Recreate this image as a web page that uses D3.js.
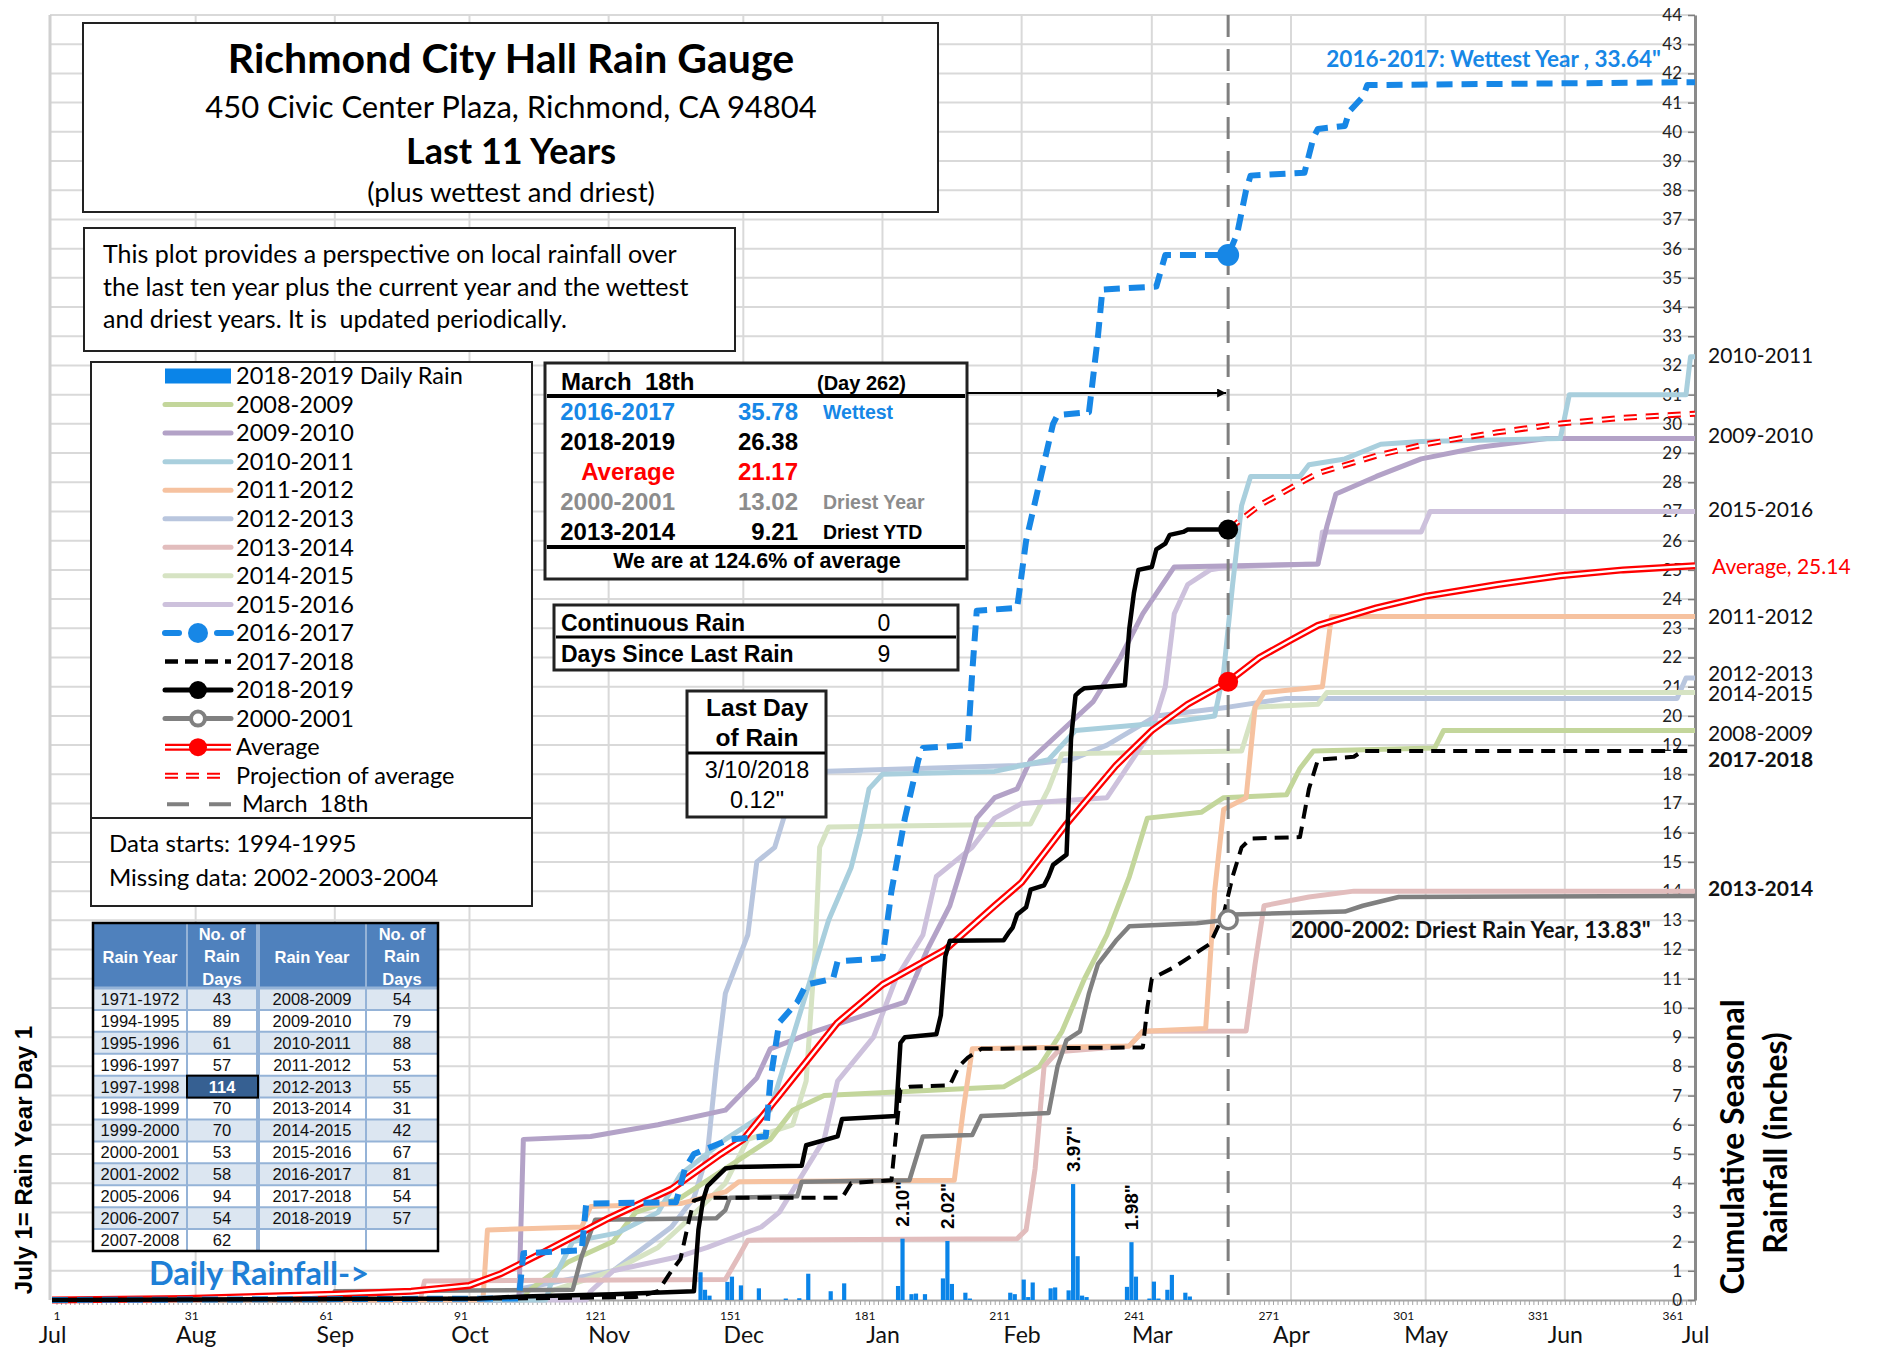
<!DOCTYPE html>
<html><head><meta charset="utf-8">
<script src="https://cdn.jsdelivr.net/npm/d3@7"></script>
<style>body{margin:0;background:#fff}svg{display:block}text{white-space:pre}</style>
</head><body><svg id="c" width="1880" height="1348"></svg>
<script>
// ---------------- DATA ----------------
const monthNames = ["Jul","Aug","Sep","Oct","Nov","Dec","Jan","Feb","Mar","Apr","May","Jun","Jul"];
const monthStartDays = [0,32,63,93,124,154,185,216,245,276,306,337,366];
const dayTickLabels = [1,31,61,91,121,151,181,211,241,271,301,331,361];
const yTicks = d3.range(0,45);
const todayDay = 262;

const s0809 = [[0,0],[105,0],[106,0.3],[115,1.3],[125,2.0],[130,3.0],[140,3.5],[150,4.5],[160,5.5],[165,6.5],[172,7.0],[212,7.3],[220,8.0],[225,9.2],[230,11.0],[235,12.5],[240,14.5],[244,16.5],[256,16.7],[261,17.2],[275,17.3],[278,18.2],[281,18.8],[308,18.9],[310,19.5],[366,19.5]];
const s0910 = [[0,0],[104,0],[105,5.5],[120,5.6],[135,6.0],[150,6.5],[157,7.6],[160,8.6],[170,9.2],[190,10.2],[195,12.0],[200,13.5],[203,15.0],[206,16.5],[210,17.2],[215,17.5],[218,18.5],[225,19.5],[232,20.5],[238,22.0],[243,23.5],[250,25.1],[282,25.2],[284,26.5],[286,27.6],[295,28.2],[305,28.8],[318,29.2],[333,29.5],[366,29.5]];
const s1011 = [[0,0],[110,0],[111,0.5],[116,2.0],[126,2.3],[135,3.0],[140,4.3],[150,5.5],[160,6.5],[165,9.0],[170,11.5],[173,13.0],[178,14.8],[180,16.0],[182,17.5],[185,18.0],[210,18.1],[222,18.5],[228,19.5],[250,19.8],[259,20.0],[261,21.5],[263,24.5],[265,27.2],[267,28.2],[278,28.2],[280,28.6],[288,28.8],[296,29.3],[305,29.4],[336,29.5],[338,31.0],[364,31.0],[365,32.3],[366,32.3]];
const s1112 = [[0,0],[96,0],[97,2.4],[118,2.5],[120,3.2],[140,3.3],[150,3.7],[153,4.05],[201,4.1],[203,6.5],[205,8.6],[240,8.7],[243,9.2],[257,9.3],[259,14.0],[261,16.8],[266,17.2],[268,20.3],[270,20.8],[283,21.0],[285,23.4],[366,23.4]];
const s1213 = [[0,0],[104,0],[105,0.4],[125,1.0],[138,2.5],[143,3.5],[146,5.0],[148,8.0],[150,10.5],[155,12.5],[157,15.0],[161,15.5],[163,16.5],[166,17.5],[169,18.0],[171,18.1],[215,18.3],[227,18.5],[235,19.0],[246,20.0],[262,20.3],[275,20.6],[362,20.6],[364,21.3],[366,21.3]];
const s1314 = [[0,0],[82,0],[83,0.65],[150,0.7],[153,1.5],[155,2.05],[215,2.1],[217,2.4],[219,4.5],[221,8.0],[224,8.5],[240,8.7],[243,9.2],[266,9.21],[268,11.5],[270,13.5],[280,13.8],[290,14.0],[366,14.0]];
const s1415 = [[0,0],[110,0],[111,0.3],[125,1.0],[135,1.8],[140,2.5],[150,4.0],[155,5.5],[165,6.0],[168,7.5],[170,12.0],[171,15.5],[173,16.2],[218,16.3],[222,17.5],[225,18.7],[265,18.8],[268,20.3],[282,20.4],[284,20.8],[366,20.8]];
const s1516 = [[0,0],[119,0],[120,0.3],[125,1.0],[140,1.5],[146,1.8],[158,2.5],[162,3.0],[172,5.5],[175,7.5],[183,9.0],[188,11.0],[194,12.5],[197,14.5],[205,15.5],[210,16.5],[216,17.0],[235,17.2],[245,19.5],[248,21.0],[250,23.5],[253,24.5],[258,25.0],[262,25.1],[282,25.2],[283,26.3],[305,26.3],[307,27.0],[366,27.0]];
const s1617 = [[0,0],[104,0.05],[105,1.6],[118,1.7],[119,3.3],[139,3.35],[141,4.5],[143,5.0],[151,5.5],[159,5.6],[160,7.5],[162,9.5],[166,10.2],[168,10.8],[174,11.0],[175,11.6],[185,11.7],[187,14.0],[190,16.5],[193,18.5],[194,18.9],[204,19.0],[205,21.5],[206,23.6],[215,23.7],[217,26.0],[220,28.0],[223,30.0],[224,30.3],[231,30.4],[233,33.0],[234,34.6],[246,34.7],[248,35.78],[262,35.78],[264,36.5],[266,38.0],[267,38.5],[279,38.6],[281,39.8],[282,40.1],[288,40.2],[289,40.7],[292,41.2],[293,41.6],[366,41.7]];
const s1718 = [[0,0],[100,0.05],[130,0.1],[135,0.3],[138,1.0],[140,1.4],[142,2.8],[143,3.4],[145,3.5],[176,3.5],[178,4.0],[187,4.1],[189,7.2],[191,7.3],[200,7.35],[202,8.0],[204,8.3],[207,8.6],[243,8.65],[244,10.0],[245,11.0],[250,11.4],[254,11.8],[258,12.2],[261,13.2],[263,14.5],[265,15.5],[267,15.8],[278,15.85],[280,17.5],[282,18.5],[290,18.6],[292,18.8],[366,18.8]];
const s1819 = [[0,0],[95,0.05],[105,0.12],[125,0.2],[143,0.3],[144,2.4],[145,3.4],[146,3.9],[150,4.5],[152,4.55],[167,4.6],[168,5.3],[175,5.6],[176,6.2],[188,6.3],[189,8.8],[190,9.0],[197,9.1],[198,9.75],[199,11.77],[200,12.3],[212,12.32],[213,12.55],[214,12.75],[215,13.2],[217,13.45],[218,14.05],[221,14.2],[222,14.5],[223,14.9],[226,15.25],[227,19.2],[228,20.7],[229,20.85],[230,20.95],[239,21.05],[240,23.0],[241,24.2],[242,25.0],[245,25.1],[246,25.7],[248,25.9],[249,26.2],[252,26.3],[253,26.38],[262,26.38]];
const s0001 = [[0,0],[62,0],[63,0.3],[116,0.35],[118,1.5],[121,2.75],[148,2.8],[150,3.08],[151,3.5],[166,3.55],[167,4.05],[191,4.1],[194,5.6],[205,5.65],[207,6.3],[222,6.4],[224,8.0],[226,8.9],[229,9.2],[231,10.5],[233,11.5],[237,12.3],[240,12.8],[255,12.9],[262,13.02],[263,13.2],[288,13.3],[292,13.5],[300,13.8],[366,13.83]];
const sAverage = [[0,0],[30,0.05],[63,0.2],[80,0.3],[93,0.5],[100,0.9],[109,1.6],[124,2.8],[138,3.8],[149,5.0],[154,5.5],[162,7.0],[175,9.5],[185,10.8],[199,12.0],[210,13.5],[216,14.3],[226,16.3],[237,18.3],[245,19.5],[253,20.4],[262,21.17],[269,22.0],[276,22.6],[282,23.1],[295,23.7],[306,24.1],[322,24.5],[336,24.8],[350,25.0],[366,25.14]];

const rainDays =   [144,145,146,150,151,153,157,163,166,168,173,176,188,189,191,192,194,198,199,200,203,204,213,214,216,217,218,222,223,226,227,228,229,230,239,240,241,244,245,246,248,249,252,253];
const rainInches = [0.95,0.35,0.15,0.62,0.8,0.5,0.4,0.05,0.06,0.9,0.3,0.57,0.48,2.10,0.2,0.22,0.2,0.74,2.02,0.55,0.25,0.05,0.25,0.2,0.7,0.1,0.6,0.4,0.43,0.33,3.97,1.5,0.15,0.1,0.45,1.98,0.8,0.05,0.63,0.05,0.35,0.86,0.25,0.12];
const labelledRainDays = [189,199,227,240];

const tableYearsA = ["1971-1972","1994-1995","1995-1996","1996-1997","1997-1998","1998-1999","1999-2000","2000-2001","2001-2002","2005-2006","2006-2007","2007-2008"];
const tableDaysA = ["43","89","61","57","114","70","70","53","58","94","54","62"];
const tableYearsB = ["2008-2009","2009-2010","2010-2011","2011-2012","2012-2013","2013-2014","2014-2015","2015-2016","2016-2017","2017-2018","2018-2019",""];
const tableDaysB = ["54","79","88","53","55","31","42","67","81","54","57",""];

const endLabels = ["2010-2011","2009-2010","2015-2016","Average, 25.14","2011-2012","2012-2013","2014-2015","2008-2009","2017-2018","2013-2014"];
const endLabelValues = [32.35,29.6,27.05,25.1,23.4,21.45,20.75,19.4,18.5,14.1];

// ---------------- STYLE ----------------
const BLUE = "#1787e6";
const C = {c0809:"#c3d69b", c0910:"#b3a2c7", c1011:"#a9cfdd", c1112:"#f6c2a0", c1213:"#b9c6de",
  c1314:"#e2bdbd", c1415:"#d6e3c3", c1516:"#cdc1dc"};
const CAL = "Lato, 'Open Sans', sans-serif";
const ARI = "'Liberation Sans', Arial, sans-serif";

const svg = d3.select("#c");
svg.append("rect").attr("width",1880).attr("height",1348).attr("fill","#fff");
const x = d3.scaleLinear().domain([0,366]).range([52,1695]);
const y = d3.scaleLinear().domain([0,44]).range([1300,15]);

const defs = svg.append("defs");
defs.append("marker").attr("id","arr").attr("viewBox","0 0 10 10").attr("refX",10).attr("refY",5)
  .attr("markerWidth",9).attr("markerHeight",9).attr("markerUnits","userSpaceOnUse").attr("orient","auto")
  .append("path").attr("d","M0,0L10,5L0,10Z").attr("fill","#000");

// gridlines
const grid = svg.append("g");
grid.selectAll(".hg").data(yTicks.slice(1)).join("line")
  .attr("x1",50).attr("x2",1695).attr("y1",d=>y(d)).attr("y2",d=>y(d))
  .attr("stroke","#d9d9d9").attr("stroke-width",2);
grid.selectAll(".vg").data(monthStartDays.slice(1,-1)).join("line")
  .attr("x1",d=>x(d)).attr("x2",d=>x(d)).attr("y1",y(44)).attr("y2",y(0))
  .attr("stroke","#d9d9d9").attr("stroke-width",2);
grid.append("line").attr("x1",50).attr("x2",50).attr("y1",y(44)).attr("y2",y(0)).attr("stroke","#d0d0d0").attr("stroke-width",3);

// axes
svg.append("g").attr("transform",`translate(0,${y(0)})`)
  .call(d3.axisBottom(x).tickValues(d3.range(1,367)).tickSize(5).tickSizeOuter(0).tickFormat(""))
  .call(g=>{g.select(".domain").attr("stroke","#a6a6a6").attr("stroke-width",2);
            g.selectAll(".tick line").attr("stroke","#a6a6a6");});
svg.append("g").attr("transform",`translate(0,${y(0)})`)
  .call(d3.axisBottom(x).tickValues(dayTickLabels).tickSize(0).tickPadding(11))
  .call(g=>{g.select(".domain").remove();
            g.selectAll("text").attr("font-family",CAL).attr("font-size",12).attr("fill","#111");});
svg.append("g").attr("transform",`translate(0,${y(0)})`)
  .call(d3.axisBottom(x).tickValues(monthStartDays).tickSize(0).tickPadding(27).tickFormat((d,i)=>monthNames[i]))
  .call(g=>{g.select(".domain").remove();
            g.selectAll("text").attr("font-family",CAL).attr("font-size",23).attr("fill","#111");});
svg.append("g").attr("transform",`translate(${x(366)},0)`)
  .call(d3.axisLeft(y).tickValues(yTicks).tickSize(7).tickSizeOuter(0).tickPadding(6).tickFormat(d3.format("d")))
  .call(g=>{g.select(".domain").attr("stroke","#8a8a8a").attr("stroke-width",3);
            g.selectAll(".tick line").attr("stroke","#7f7f7f").attr("stroke-width",1.5);
            g.selectAll("text").attr("font-family",CAL).attr("font-size",17).attr("fill","#222");});

// series
const line = d3.line().x(d=>x(d[0])).y(d=>y(d[1]));
const pale = [[s1213,C.c1213],[s1415,C.c1415],[s0809,C.c0809],[s1516,C.c1516],[s0910,C.c0910],[s1011,C.c1011],[s1314,C.c1314],[s1112,C.c1112]];
const lines = svg.append("g").attr("fill","none").attr("stroke-linejoin","round");
pale.forEach(([d,c])=>lines.append("path").attr("d",line(d)).attr("stroke",c).attr("stroke-width",5));

// daily rain bars
const bars = rainDays.map((d,i)=>({day:d,v:rainInches[i]}));
svg.append("g").selectAll("rect").data(bars).join("rect")
  .attr("x",d=>x(d.day)).attr("width",d=>x(d.day+1)-x(d.day)-0.3)
  .attr("y",d=>y(d.v)).attr("height",d=>y(0)-y(d.v)).attr("fill","#0a84e8");
svg.append("g").selectAll("text").data(bars.filter(b=>labelledRainDays.includes(b.day))).join("text")
  .attr("transform",d=>`translate(${x(d.day+0.5)},${y(d.v)-12}) rotate(-90)`)
  .attr("dy","0.35em").attr("font-family",ARI).attr("font-weight","bold").attr("font-size",19)
  .text(d=>d.v.toFixed(2)+'"');

const L2 = svg.append("g").attr("fill","none").attr("stroke-linejoin","round");
L2.append("path").attr("d",line(s0001)).attr("stroke","#808080").attr("stroke-width",4.5);
L2.append("path").attr("d",line(s1718)).attr("stroke","#000").attr("stroke-width",4).attr("stroke-dasharray","14,8");
L2.append("path").attr("d",line(sAverage)).attr("stroke","#ff0000").attr("stroke-width",7);
L2.append("path").attr("d",line(sAverage)).attr("stroke","#fff").attr("stroke-width",2.4);
const avgToday = sAverage.find(d=>d[0]===todayDay)[1];
const curToday = s1819[s1819.length-1][1];
const proj = sAverage.filter(d=>d[0]>=todayDay).map(d=>[d[0], curToday + d[1]-avgToday]);
L2.append("path").attr("d",line(proj)).attr("stroke","#ff0000").attr("stroke-width",6).attr("stroke-dasharray","13,9");
L2.append("path").attr("d",line(proj)).attr("stroke","#fff").attr("stroke-width",2).attr("stroke-dasharray","13,9");
L2.append("path").attr("d",line(s1617)).attr("stroke",BLUE).attr("stroke-width",6).attr("stroke-dasharray","16,9");
L2.append("path").attr("d",line(s1819)).attr("stroke","#000").attr("stroke-width",4.5);

// march 18 line
svg.append("line").attr("x1",x(todayDay)).attr("x2",x(todayDay)).attr("y1",y(44)).attr("y2",y(0))
  .attr("stroke","#7f7f7f").attr("stroke-width",3).attr("stroke-dasharray","22,12");

// today markers
const valAt = (s)=>{const p=s.find(d=>d[0]===todayDay);return p?p[1]:s[s.length-1][1];};
svg.append("circle").attr("cx",x(todayDay)).attr("cy",y(valAt(s1617))).attr("r",11).attr("fill",BLUE);
svg.append("circle").attr("cx",x(todayDay)).attr("cy",y(curToday)).attr("r",10).attr("fill","#000");
svg.append("circle").attr("cx",x(todayDay)).attr("cy",y(avgToday)).attr("r",10).attr("fill","#ff0000");
svg.append("circle").attr("cx",x(todayDay)).attr("cy",y(valAt(s0001))).attr("r",9).attr("fill","#fff").attr("stroke","#808080").attr("stroke-width",3.5);

// end labels
svg.append("g").selectAll("text").data(endLabels).join("text")
  .attr("x",d=>d.startsWith("Average")?1712:1708).attr("y",(d,i)=>y(endLabelValues[i])).attr("dy","0.35em")
  .attr("font-family",CAL).attr("font-size",21)
  .attr("font-weight",d=>(d==="2017-2018"||d==="2013-2014")?"bold":"normal")
  .attr("fill",d=>d.startsWith("Average")?"#ff0000":"#111").text(d=>d);

svg.append("text").attr("x",1661).attr("y",67).attr("text-anchor","end").attr("font-family",CAL)
  .attr("font-weight","bold").attr("font-size",22.5).attr("fill",BLUE).text('2016-2017: Wettest Year , 33.64"');
svg.append("text").attr("x",1291).attr("y",938).attr("font-family",CAL)
  .attr("font-weight","bold").attr("font-size",22.5).attr("fill","#111").text('2000-2002: Driest Rain Year, 13.83"');
svg.append("text").attr("x",149).attr("y",1285).attr("font-family",CAL)
  .attr("font-weight","bold").attr("font-size",32.5).attr("fill","#1e7fd6").text("Daily Rainfall->");

// axis titles
svg.append("text").attr("transform","translate(24,1160) rotate(-90)").attr("text-anchor","middle").attr("dy","0.35em")
  .attr("font-family",ARI).attr("font-weight","bold").attr("font-size",24).text("July 1= Rain Year Day 1");
svg.append("text").attr("transform","translate(1733,1147) rotate(-90)").attr("text-anchor","middle").attr("dy","0.35em")
  .attr("font-family",CAL).attr("font-weight","bold").attr("font-size",32).text("Cumulative Seasonal");
svg.append("text").attr("transform","translate(1776,1143) rotate(-90)").attr("text-anchor","middle").attr("dy","0.35em")
  .attr("font-family",CAL).attr("font-weight","bold").attr("font-size",32).text("Rainfall (inches)");

// ---------- boxes ----------
function box(x0,y0,w,h,sw){svg.append("rect").attr("x",x0).attr("y",y0).attr("width",w).attr("height",h)
  .attr("fill","#fff").attr("stroke","#222").attr("stroke-width",sw||2);}
function txt(t,x0,y0,o){const e=svg.append("text").attr("x",x0).attr("y",y0).text(t);
  e.attr("font-family",o.f||CAL).attr("font-size",o.s||20).attr("font-weight",o.b?"bold":"normal")
   .attr("fill",o.c||"#000").attr("text-anchor",o.a||"start"); return e;}

// title
box(83,23,855,189,2);
txt("Richmond City Hall Rain Gauge",511,73,{s:41,b:1,a:"middle"});
txt("450 Civic Center Plaza, Richmond, CA 94804",511,118,{s:31,a:"middle"});
txt("Last 11 Years",511,164,{s:36,b:1,a:"middle"});
txt("(plus wettest and driest)",511,202,{s:27.5,a:"middle"});
// description
box(84,228,651,123,2);
txt("This plot provides a perspective on local rainfall over",103,263,{s:25});
txt("the last ten year plus the current year and the wettest",103,296,{s:25});
txt("and driest years. It is  updated periodically.",103,328,{s:25});

// legend
box(91,362,441,456,2);
box(91,818,441,88,2);
const legendItems = [
 {l:"2018-2019 Daily Rain",k:"bar",c:"#0a84e8"},
 {l:"2008-2009",k:"line",c:C.c0809},{l:"2009-2010",k:"line",c:C.c0910},{l:"2010-2011",k:"line",c:C.c1011},
 {l:"2011-2012",k:"line",c:C.c1112},{l:"2012-2013",k:"line",c:C.c1213},{l:"2013-2014",k:"line",c:C.c1314},
 {l:"2014-2015",k:"line",c:C.c1415},{l:"2015-2016",k:"line",c:C.c1516},
 {l:"2016-2017",k:"bluedash",c:BLUE},{l:"2017-2018",k:"dash",c:"#000"},{l:"2018-2019",k:"dot",c:"#000"},
 {l:"2000-2001",k:"ring",c:"#808080"},{l:"Average",k:"avg",c:"#f00"},{l:"Projection of average",k:"proj",c:"#f00"},
 {l:" March  18th",k:"march",c:"#808080"}];
const lg = svg.append("g");
legendItems.forEach((it,i)=>{
  const cy = 376 + i*28.55, x0=165, x1=231;
  const g = lg.append("g");
  if(it.k==="bar") g.append("rect").attr("x",x0).attr("y",cy-7.5).attr("width",66).attr("height",15).attr("fill",it.c);
  else if(it.k==="line") g.append("line").attr("x1",x0).attr("x2",x1).attr("y1",cy).attr("y2",cy).attr("stroke",it.c).attr("stroke-width",5).attr("stroke-linecap","round");
  else if(it.k==="bluedash"){g.append("line").attr("x1",x0).attr("x2",x1).attr("y1",cy).attr("y2",cy).attr("stroke",it.c).attr("stroke-width",6).attr("stroke-dasharray","14,38").attr("stroke-linecap","round");
    g.append("circle").attr("cx",198).attr("cy",cy).attr("r",10).attr("fill",it.c);}
  else if(it.k==="dash") g.append("line").attr("x1",x0).attr("x2",x1).attr("y1",cy).attr("y2",cy).attr("stroke",it.c).attr("stroke-width",4.5).attr("stroke-dasharray","13,7");
  else if(it.k==="dot"){g.append("line").attr("x1",x0).attr("x2",x1).attr("y1",cy).attr("y2",cy).attr("stroke",it.c).attr("stroke-width",5).attr("stroke-linecap","round");
    g.append("circle").attr("cx",198).attr("cy",cy).attr("r",9).attr("fill",it.c);}
  else if(it.k==="ring"){g.append("line").attr("x1",x0).attr("x2",x1).attr("y1",cy).attr("y2",cy).attr("stroke",it.c).attr("stroke-width",5).attr("stroke-linecap","round");
    g.append("circle").attr("cx",198).attr("cy",cy).attr("r",7).attr("fill","#fff").attr("stroke",it.c).attr("stroke-width",4);}
  else if(it.k==="avg"){g.append("line").attr("x1",x0).attr("x2",x1).attr("y1",cy).attr("y2",cy).attr("stroke",it.c).attr("stroke-width",7);
    g.append("line").attr("x1",x0).attr("x2",x1).attr("y1",cy).attr("y2",cy).attr("stroke","#fff").attr("stroke-width",2.5);
    g.append("circle").attr("cx",198).attr("cy",cy).attr("r",9).attr("fill",it.c);}
  else if(it.k==="proj"){g.append("line").attr("x1",x0).attr("x2",x1-10).attr("y1",cy).attr("y2",cy).attr("stroke",it.c).attr("stroke-width",6).attr("stroke-dasharray","13,8");
    g.append("line").attr("x1",x0).attr("x2",x1-10).attr("y1",cy).attr("y2",cy).attr("stroke","#fff").attr("stroke-width",2).attr("stroke-dasharray","13,8");}
  else if(it.k==="march") g.append("line").attr("x1",x0+2).attr("x2",x1).attr("y1",cy).attr("y2",cy).attr("stroke",it.c).attr("stroke-width",4).attr("stroke-dasharray","22,20");
  g.append("text").attr("x",236).attr("y",cy).attr("dy","0.35em").attr("font-family",CAL).attr("font-size",23.5).attr("fill","#000").text(it.l);
});
txt("Data starts: 1994-1995",109,852,{s:24});
txt("Missing data: 2002-2003-2004",109,886,{s:24});

// March 18 box
box(545,363,422,216,3);
svg.append("line").attr("x1",547).attr("x2",965).attr("y1",396).attr("y2",396).attr("stroke","#000").attr("stroke-width",4);
svg.append("line").attr("x1",547).attr("x2",965).attr("y1",547).attr("y2",547).attr("stroke","#000").attr("stroke-width",4);
txt("March  18th",561,390,{f:ARI,s:24,b:1});
txt("(Day 262)",817,390,{f:ARI,s:20,b:1});
const mRows = [["2016-2017","35.78","Wettest",BLUE],["2018-2019","26.38","","#000"],["Average","21.17","","#ff0000"],["2000-2001","13.02","Driest Year","#8c8c8c"],["2013-2014","9.21","Driest YTD","#000"]];
mRows.forEach((r,i)=>{const yy=420+i*30;
  txt(r[0],675,yy,{f:ARI,s:24,b:1,c:r[3],a:"end"});
  txt(r[1],798,yy,{f:ARI,s:24,b:1,c:r[3],a:"end"});
  if(r[2]) txt(r[2],823,yy-1,{f:ARI,s:19.5,b:1,c:r[3]});});
txt("We are at 124.6% of average",757,568,{f:ARI,s:21.5,b:1,a:"middle"});
svg.append("line").attr("x1",967).attr("x2",x(todayDay)-2).attr("y1",393).attr("y2",393).attr("stroke","#000").attr("stroke-width",2).attr("marker-end","url(#arr)");

// continuous rain box
box(554,605,404,65,3);
svg.append("line").attr("x1",556).attr("x2",956).attr("y1",637).attr("y2",637).attr("stroke","#000").attr("stroke-width",3);
txt("Continuous Rain",561,631,{f:ARI,s:23,b:1});
txt("0",884,631,{f:ARI,s:23,a:"middle"});
txt("Days Since Last Rain",561,662,{f:ARI,s:23,b:1});
txt("9",884,662,{f:ARI,s:23,a:"middle"});

// last day box
box(687,691,139,126,3);
svg.append("line").attr("x1",688).attr("x2",825).attr("y1",753).attr("y2",753).attr("stroke","#000").attr("stroke-width",3);
txt("Last Day",757,716,{f:ARI,s:24.5,b:1,a:"middle"});
txt("of Rain",757,746,{f:ARI,s:24.5,b:1,a:"middle"});
txt("3/10/2018",757,778,{f:ARI,s:23.5,a:"middle"});
txt('0.12"',757,808,{f:ARI,s:23.5,a:"middle"});

// table
const T = svg.append("g");
const colX = [93,187,258,366,438];
const hTop=923, hBot=988, rowH=(1251-988)/12;
T.append("rect").attr("x",93).attr("y",hTop).attr("width",345).attr("height",hBot-hTop).attr("fill","#4f81bd");
const rowsIdx = d3.range(12);
T.selectAll(".rb").data(rowsIdx).join("rect").attr("x",93).attr("y",i=>hBot+i*rowH).attr("width",345).attr("height",rowH)
  .attr("fill",i=>i%2===0?"#dce6f1":"#fff");
T.selectAll(".rl").data(rowsIdx.slice(1)).join("line").attr("x1",93).attr("x2",438).attr("y1",i=>hBot+i*rowH).attr("y2",i=>hBot+i*rowH)
  .attr("stroke","#95b3d7").attr("stroke-width",2);
T.append("line").attr("x1",93).attr("x2",438).attr("y1",hBot).attr("y2",hBot).attr("stroke","#95b3d7").attr("stroke-width",3);
T.selectAll(".cl").data(colX.slice(1,4)).join("line").attr("x1",d=>d).attr("x2",d=>d).attr("y1",hTop).attr("y2",1251)
  .attr("stroke","#95b3d7").attr("stroke-width",d=>d===258?4:2);
T.append("rect").attr("x",187).attr("y",hBot+4*rowH).attr("width",71).attr("height",rowH).attr("fill","#366092").attr("stroke","#000").attr("stroke-width",2);
const tcols = [[tableYearsA,140],[tableDaysA,222],[tableYearsB,312],[tableDaysB,402]];
tcols.forEach(([arr,cx])=>{
  T.append("g").selectAll("text").data(arr).join("text").attr("x",cx).attr("y",(d,i)=>hBot+i*rowH+rowH/2).attr("dy","0.36em")
   .attr("text-anchor","middle").attr("font-family",ARI).attr("font-size",16.5)
   .attr("font-weight",(d,i)=>(arr===tableDaysA&&i===4)?"bold":"normal")
   .attr("fill",(d,i)=>(arr===tableDaysA&&i===4)?"#fff":"#111").text(d=>d);});
[[140,["Rain Year"],957],[222,["No. of","Rain","Days"],934],[312,["Rain Year"],957],[402,["No. of","Rain","Days"],934]].forEach(([cx,ls,y0])=>{
  ls.forEach((l,j)=>T.append("text").attr("x",cx).attr("y",y0+j*22.5).attr("dy","0.36em").attr("text-anchor","middle")
    .attr("font-family",ARI).attr("font-weight","bold").attr("font-size",16.5).attr("fill","#fff").text(l));});
T.append("rect").attr("x",93).attr("y",hTop).attr("width",345).attr("height",1251-hTop).attr("fill","none").attr("stroke","#000").attr("stroke-width",2.5);
</script></body></html>
